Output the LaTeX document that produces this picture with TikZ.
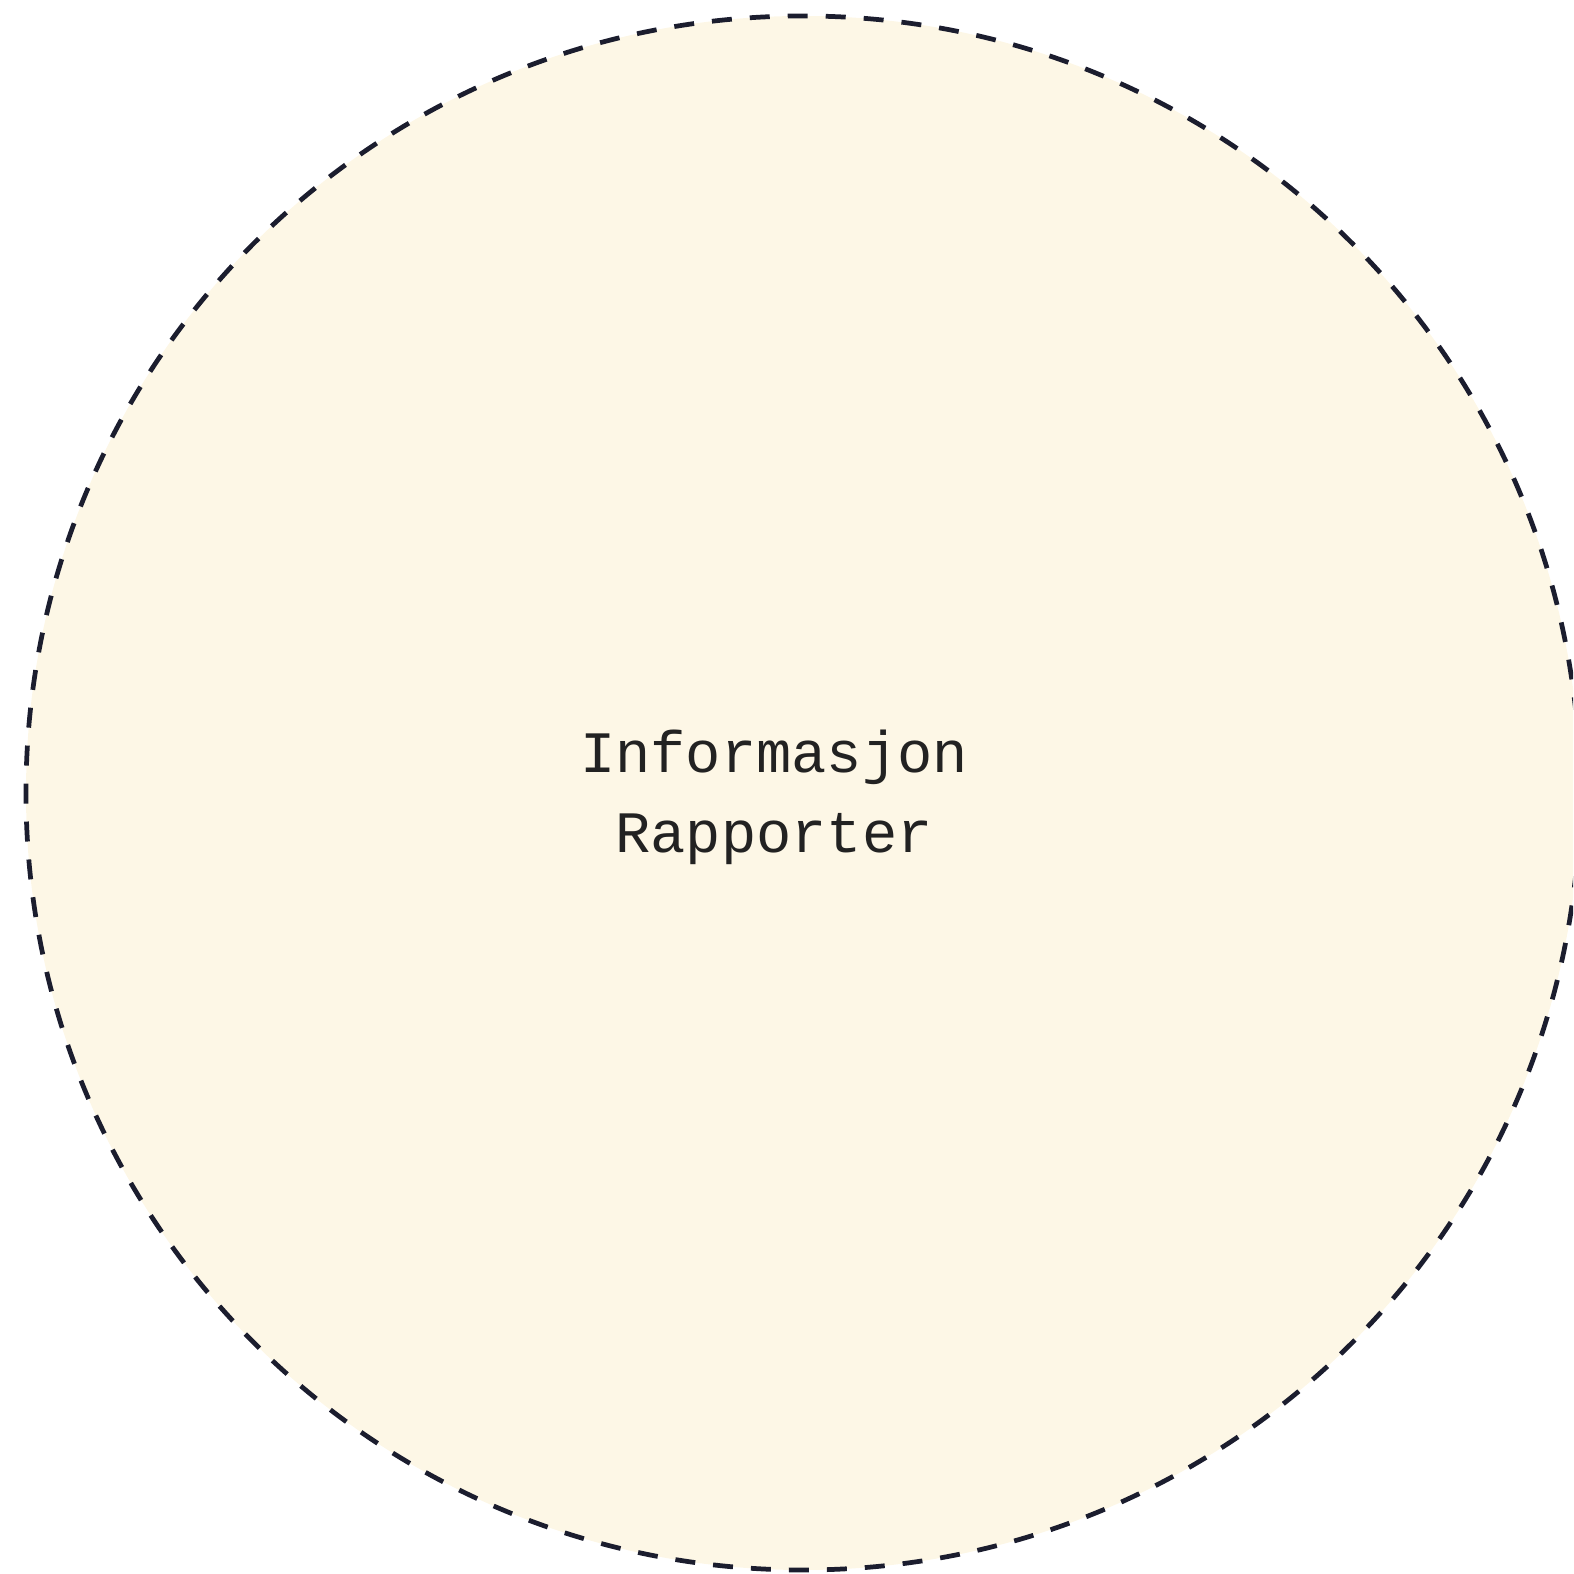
\documentclass[tikz,border=0pt]{standalone}
\usepackage{fontspec}
\setmonofont{Liberation Mono}
\usetikzlibrary{calc}
\definecolor{creamfill}{HTML}{FDF7E6}
\definecolor{dashink}{HTML}{1B1D2E}
\definecolor{textink}{HTML}{222222}
\tikzstyle{infocircle}=[circle,fill=creamfill,draw=dashink,line width=1.35pt,dash pattern=on 0.2cm off 0.18cm,minimum size=15.54cm,inner sep=0pt]
\tikzstyle{infotext}=[align=center,text=textink,font=\ttfamily\fontsize{16.7pt}{22.8pt}\selectfont]

\begin{document}
\begin{tikzpicture}
    % Fix the page to the size of the reference
    \useasboundingbox (0,0) rectangle (15.73,15.74);
    \clip (0,0) rectangle (15.73,15.74);
    % The circle and its label
    \node[infocircle] (info) at (8.03,7.81) {};
    \node[infotext] (infolbl) at (7.74,7.77) {Informasjon\\Rapporter};
\end{tikzpicture}
\end{document}
